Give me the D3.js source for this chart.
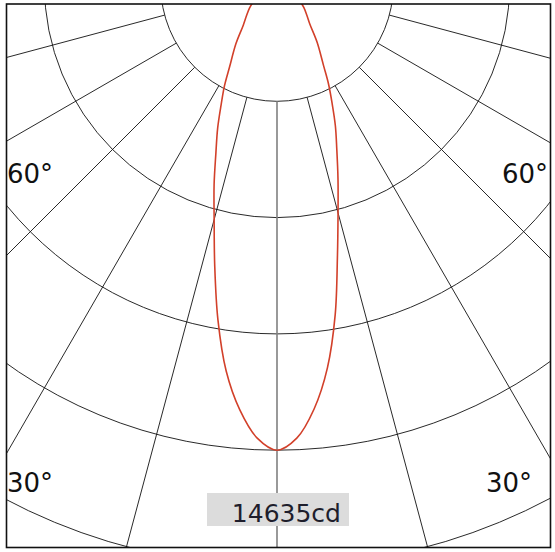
<!DOCTYPE html>
<html><head><meta charset="utf-8">
<script src="https://cdn.jsdelivr.net/npm/d3@7"></script>
<style>html,body{margin:0;padding:0;background:#fff;}svg{display:block;}</style>
</head><body>
<svg id="chart" width="555" height="552"></svg>
<script>
// Data
const angles = [-90,-80,-70,-60,-55,-50,-45,-40,-35,-30,-27.5,-25,-22.5,-20,-17.5,-15,-12.5,-10,-7.5,-5,-2.5,0,2.5,5,7.5,10,12.5,15,17.5,20,22.5,25,27.5,30,35,40,45,50,55,60,70,80,90];
const intensity = [0,150,370,660,880,1100,1320,1610,2200,2930,3510,4100,4800,5500,6380,7420,8780,10540,12150,13390,14270,14635,14270,13420,12250,10700,9050,7640,6580,5620,4880,4160,3580,2990,2250,1650,1350,1130,900,680,380,150,0];
const maxCd = 14635;
const gridAngles = [-75,-60,-45,-30,-15,15,30,45,60,75];
const ringSteps = [1,2,3,4,5];
const angleLabels = [
  {text:"60°", side:"left", row:"upper"},
  {text:"60°", side:"right", row:"upper"},
  {text:"30°", side:"left", row:"lower"},
  {text:"30°", side:"right", row:"lower"}
];
const maxLabel = "14635cd";

const svg = d3.select("#chart");
const frame = {x0:6.5, y0:4, x1:550.5, y1:547.5};
const cx = 277, cy = -15, ringGap = 116.3;

svg.append("defs").append("clipPath").attr("id","clip")
  .append("rect").attr("x",frame.x0).attr("y",frame.y0)
  .attr("width",frame.x1-frame.x0).attr("height",frame.y1-frame.y0);

const r = d3.scaleLinear().domain([0, maxCd]).range([0, 4*ringGap]);
const toRad = d => (180 + d) * Math.PI / 180;  // 0 deg points down

const g = svg.append("g").attr("clip-path","url(#clip)")
  .append("g").attr("transform",`translate(${cx},${cy})`);

// rings
g.selectAll("circle.ring").data(ringSteps).join("circle")
  .attr("class","ring").attr("r", k => r(maxCd/4*k))
  .attr("fill","none").attr("stroke","#111").attr("stroke-width",0.9);

// radial lines
const radial = d3.lineRadial().angle(d => d[0]).radius(d => d[1]);
g.selectAll("path.spoke").data(gridAngles).join("path")
  .attr("class","spoke")
  .attr("d", a => radial([[toRad(a), r(maxCd/4)], [toRad(a), 900]]))
  .attr("fill","none").attr("stroke","#111").attr("stroke-width",0.9);

// central axis
g.append("path")
  .attr("d", radial([[toRad(0), r(maxCd/4)], [toRad(0), 900]]))
  .attr("stroke","#808080").attr("stroke-width",1.6).attr("fill","none");

// curve
const curve = d3.lineRadial()
  .angle((d,i) => toRad(angles[i]))
  .radius(d => r(d))
  .curve(d3.curveCatmullRom.alpha(0.5));
g.append("path").datum(intensity)
  .attr("d", curve)
  .attr("fill","none").attr("stroke","#d2402a").attr("stroke-width",1.6);

// label box
const lbl = svg.append("g");
lbl.append("rect").attr("x",207).attr("y",493).attr("width",142).attr("height",33)
  .attr("fill","#dcdcdc");
lbl.append("text").attr("x",341).attr("y",522).attr("text-anchor","end")
  .attr("font-family","DejaVu Sans").attr("font-size",25)
  .attr("fill","#1e1e2c").text(maxLabel);

// angle labels
const pos = {left:{x:7, anchor:"start"}, right:{x:548, anchor:"end"}};
const rowY = {upper:183, lower:492};
svg.selectAll("text.ang").data(angleLabels).join("text")
  .attr("class","ang")
  .attr("x", d => d.row==="lower" && d.side==="right" ? 532 : pos[d.side].x)
  .attr("y", d => rowY[d.row])
  .attr("text-anchor", d => d.row==="lower" && d.side==="right" ? "end" : pos[d.side].anchor)
  .attr("font-family","DejaVu Sans").attr("font-size",26)
  .attr("fill","#111").text(d => d.text);

// frame
svg.append("rect").attr("x",frame.x0).attr("y",frame.y0)
  .attr("width",frame.x1-frame.x0).attr("height",frame.y1-frame.y0)
  .attr("fill","none").attr("stroke","#111").attr("stroke-width",1.6);
</script>
</body></html>
